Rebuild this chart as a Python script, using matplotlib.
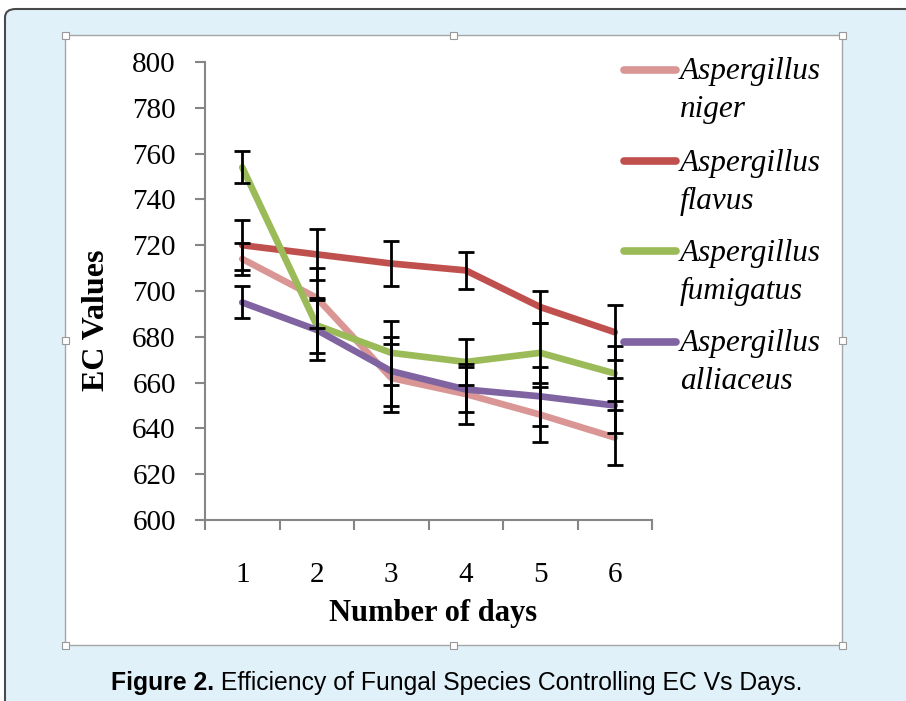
import matplotlib
matplotlib.use("Agg")
import matplotlib.pyplot as plt
from matplotlib.patches import FancyBboxPatch, Rectangle
from matplotlib.lines import Line2D

days = [1, 2, 3, 4, 5, 6]
series_names = ["Aspergillus niger", "Aspergillus flavus", "Aspergillus fumigatus", "Aspergillus alliaceus"]
niger = [714, 697, 662, 655, 646, 636]
flavus = [720, 716, 712, 709, 693, 682]
fumigatus = [754, 685, 673, 669, 673, 664]
alliaceus = [695, 683, 665, 657, 654, 650]
niger_err = [7, 13, 15, 13, 12, 12]
flavus_err = [11, 11, 10, 8, 7, 12]
fumigatus_err = [7, 12, 14, 10, 13, 12]
alliaceus_err = [7, 13, 15, 10, 13, 12]
yticks = list(range(600, 801, 20))
caption_bold = "Figure 2."
caption_rest = " Efficiency of Fungal Species Controlling EC Vs Days."

colors = ["#D99694", "#C0504D", "#9BBB59", "#8064A2"]
values = [niger, flavus, fumigatus, alliaceus]
errs = [niger_err, flavus_err, fumigatus_err, alliaceus_err]

W, H = 906, 701
fig = plt.figure(figsize=(W / 100, H / 100), dpi=100)
fig.patch.set_facecolor("white")

def fx(x):
    return x / W

def fy(y):
    return 1 - y / H

# blue panel with rounded border
panel = FancyBboxPatch((fx(5), fy(760)), fx(960) - fx(5), fy(9) - fy(760),
                       boxstyle="round,pad=0,rounding_size=0.012",
                       transform=fig.transFigure, facecolor="#E1F1FA",
                       edgecolor="#4a4a4a", lw=1.5, zorder=0)
fig.add_artist(panel)

# inner white chart area
inner = Rectangle((fx(65), fy(645)), fx(842) - fx(65), fy(35) - fy(645),
                  transform=fig.transFigure, facecolor="white",
                  edgecolor="#a6a6a6", lw=1.0, zorder=1)
fig.add_artist(inner)
for (hx, hy) in [(65, 35), (453, 35), (842, 35), (65, 645), (453, 645), (842, 645), (65, 340), (842, 340)]:
    fig.add_artist(Rectangle((fx(hx - 3.5), fy(hy + 3.5)), 7 / W, 7 / H,
                             transform=fig.transFigure, facecolor="white",
                             edgecolor="#999999", lw=0.8, zorder=2))

serif = "Liberation Serif"

ax = fig.add_axes([fx(205), fy(520), (652 - 205) / W, (520 - 62) / H], zorder=3)
ax.set_facecolor("none")
for i in range(4):
    ax.plot(days, values[i], color=colors[i], lw=4.8, solid_capstyle="round", zorder=2 + i)
for i in range(4):
    ax.errorbar(days, values[i], yerr=errs[i], fmt="none", ecolor="black",
                elinewidth=2.0, capsize=5.5, capthick=2.0, zorder=10)

ax.set_xlim(0.5, 6.5)
ax.set_ylim(600, 800)
ax.set_yticks(yticks)
ax.set_xticks(days)
ax.set_xticks([0.5 + k for k in range(7)], minor=True)
for s in ["top", "right"]:
    ax.spines[s].set_visible(False)
for s in ["left", "bottom"]:
    ax.spines[s].set_color("#868686")
    ax.spines[s].set_linewidth(1.5)
ax.tick_params(axis="y", direction="out", length=7, width=1.5, color="#868686",
               pad=14, labelsize=21, labelfontfamily=serif)
ax.tick_params(axis="x", which="major", length=0, pad=30, labelsize=21, labelfontfamily=serif)
ax.tick_params(axis="x", which="minor", direction="out", length=7, width=1.5, color="#868686")

ax.set_ylabel("EC Values", fontfamily=serif, fontsize=23, fontweight="bold", va="center")
ax.yaxis.set_label_coords((97 - 205) / 447, (520 - 320) / 458)
ax.set_xlabel("Number of days", fontfamily=serif, fontsize=22, fontweight="bold", va="center")
ax.xaxis.set_label_coords((433 - 205) / 447, (520 - 613) / 458)

# legend (manual, two-line labels)
leg_y = [70, 161, 251, 342]
for i, name in enumerate(series_names):
    genus, species = name.split(" ")
    fig.add_artist(Line2D([fx(624), fx(676)], [fy(leg_y[i])] * 2, transform=fig.transFigure,
                          color=colors[i], lw=5.5, solid_capstyle="round", zorder=4))
    fig.text(fx(680), fy(leg_y[i] + 2), genus, fontfamily=serif, style="italic",
             fontsize=22.5, va="center", ha="left", zorder=4)
    fig.text(fx(680), fy(leg_y[i] + 40), species, fontfamily=serif, style="italic",
             fontsize=22.5, va="center", ha="left", zorder=4)

# caption
cap_font = ["Liberation Sans", "DejaVu Sans"]
cap_size = 19
t1 = fig.text(0, fy(683), caption_bold, fontfamily=cap_font, fontweight="bold",
              fontsize=cap_size, va="center", ha="left", zorder=4)
t2 = fig.text(0, fy(683), caption_rest, fontfamily=cap_font,
              fontsize=cap_size, va="center", ha="left", zorder=4)
fig.canvas.draw()
r = fig.canvas.get_renderer()
w1 = t1.get_window_extent(r).width
w2 = t2.get_window_extent(r).width
target = 695.0
if w1 + w2 > target:
    scale = target / (w1 + w2)
    t1.set_fontsize(cap_size * scale)
    t2.set_fontsize(cap_size * scale)
    fig.canvas.draw()
    w1 = t1.get_window_extent(r).width
    w2 = t2.get_window_extent(r).width
start = 457 - (w1 + w2) / 2
t1.set_x(fx(start))
t2.set_x(fx(start + w1))

fig.savefig("out.png", dpi=100, facecolor=fig.get_facecolor())
